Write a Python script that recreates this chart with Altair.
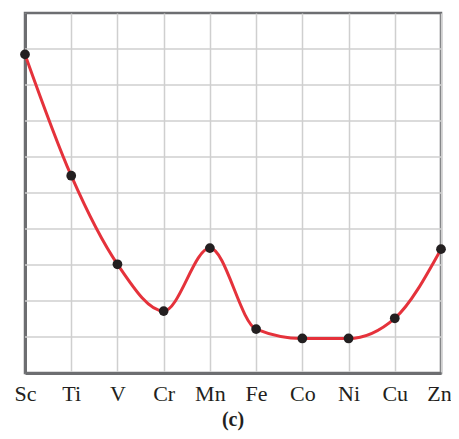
import altair as alt
import pandas as pd

elements = ["Sc", "Ti", "V", "Cr", "Mn", "Fe", "Co", "Ni", "Cu", "Zn"]
values = [8.85, 5.48, 3.02, 1.72, 3.47, 1.22, 0.96, 0.96, 1.52, 3.44]
y_grid = [1, 2, 3, 4, 5, 6, 7, 8, 9]

df = pd.DataFrame({"idx": list(range(len(elements))), "el": elements, "v": values})
grid_df = pd.DataFrame({"g": y_grid})

label_expr = "[" + ",".join(f"'{e}'" for e in elements) + "][datum.value]"

x = alt.X("idx:Q",
          scale=alt.Scale(domain=[0, 9], nice=False, zero=False),
          axis=alt.Axis(values=list(range(10)), labelExpr=label_expr, title=None,
                        ticks=False, grid=True, gridColor="#cfcfcf", gridWidth=1.5,
                        domainColor="#6d6e71", domainWidth=3,
                        labelFont="Liberation Serif", labelFontSize=22, labelColor="#231f20",
                        labelPadding=10, labelFlush=False,
                        labelOffset=alt.condition("datum.value == 9", alt.value(-2), alt.value(0))))
y = alt.Y("v:Q",
          scale=alt.Scale(domain=[0, 10], nice=False),
          axis=alt.Axis(labels=False, ticks=False, title=None, grid=False,
                        domainColor="#6d6e71", domainWidth=3))

grid = alt.Chart(grid_df).mark_rule(color="#cfcfcf", strokeWidth=1.5).encode(
    y=alt.Y("g:Q", scale=alt.Scale(domain=[0, 10], nice=False)))

base = alt.Chart(df)
line = base.mark_line(color="#e5323b", strokeWidth=3, interpolate="monotone").encode(x=x, y=y)
pts = base.mark_circle(color="#231f20", size=95, opacity=1).encode(x=x, y=y)

chart = alt.layer(grid, line, pts).properties(
    width=416, height=360,
    autosize=alt.AutoSizeParams(type="none"),
    padding={"left": 17, "top": 5, "right": 10, "bottom": 58},
    title=alt.TitleParams("(c)", orient="bottom", font="Liberation Serif", fontSize=20,
                          fontWeight="bold", color="#231f20", offset=6, anchor="middle"),
).configure_view(stroke="#6d6e71", strokeWidth=2.5)

chart.save("out.html", embed_options={"renderer": "svg", "actions": False})
